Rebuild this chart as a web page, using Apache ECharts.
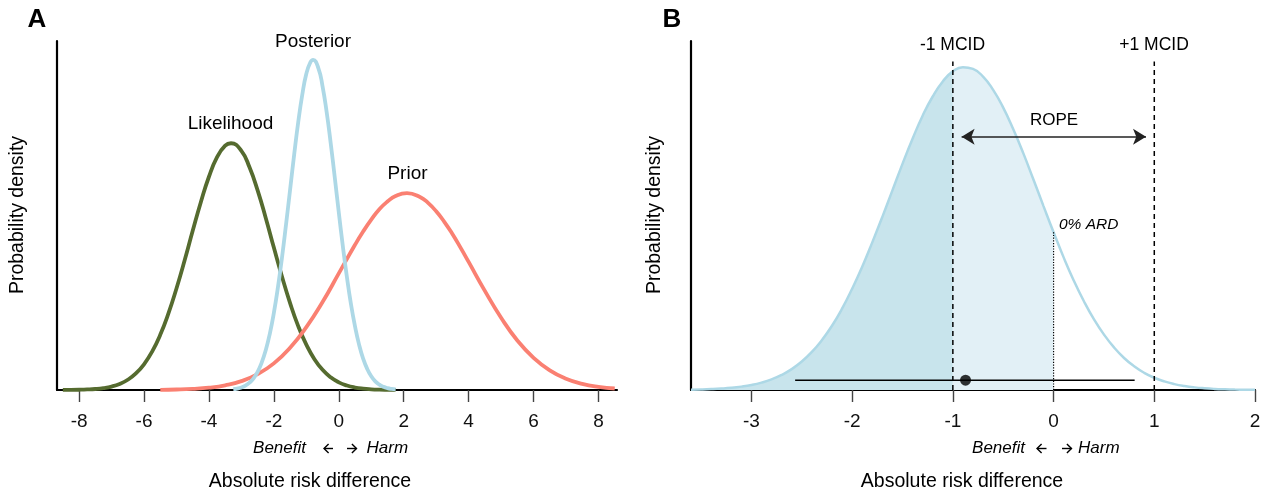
<!DOCTYPE html>
<html>
<head>
<meta charset="utf-8">
<script src="https://cdn.jsdelivr.net/npm/echarts@6/dist/echarts.min.js"></script>
<style>
  html, body { margin: 0; padding: 0; background: #fff; }
  #chart { width: 1271px; height: 499px; }
</style>
</head>
<body>
<div id="chart"></div>
<script>
// panel A, heights read as share of the y axis
const likelihoodX = [-8.5, -8.25, -8, -7.75, -7.5, -7.25, -7, -6.75, -6.5, -6.25, -6, -5.75, -5.5, -5.25, -5, -4.75, -4.5, -4.25, -4, -3.75, -3.5, -3.32, -3, -2.75, -2.5, -2.25, -2, -1.75, -1.5, -1.25, -1, -0.75, -0.5, -0.25, 0, 0.25, 0.5, 0.75, 1, 1.25, 1.5, 1.75];
const likelihoodY = [0.0002, 0.0003, 0.0007, 0.0015, 0.0029, 0.0055, 0.0099, 0.0174, 0.0293, 0.0473, 0.0736, 0.110, 0.158, 0.219, 0.291, 0.371, 0.456, 0.538, 0.611, 0.667, 0.700, 0.707, 0.685, 0.638, 0.572, 0.493, 0.408, 0.325, 0.249, 0.183, 0.130, 0.0883, 0.0578, 0.0363, 0.0220, 0.0128, 0.0071, 0.0038, 0.0020, 0.0010, 0.0005, 0.0002];
const posteriorX = [-3.25, -3.125, -3, -2.875, -2.75, -2.625, -2.5, -2.375, -2.25, -2.125, -2, -1.875, -1.75, -1.625, -1.5, -1.375, -1.25, -1.125, -1, -0.875, -0.79, -0.625, -0.5, -0.375, -0.25, -0.125, 0, 0.125, 0.25, 0.375, 0.5, 0.625, 0.75, 0.875, 1, 1.125, 1.25, 1.375, 1.5, 1.625, 1.75];
const posteriorY = [0.0023, 0.0042, 0.0074, 0.0127, 0.0209, 0.0335, 0.0520, 0.0783, 0.114, 0.161, 0.221, 0.294, 0.379, 0.474, 0.574, 0.674, 0.767, 0.846, 0.906, 0.939, 0.946, 0.921, 0.870, 0.797, 0.708, 0.610, 0.509, 0.412, 0.324, 0.246, 0.182, 0.130, 0.090, 0.0605, 0.0394, 0.0249, 0.0152, 0.0091, 0.0052, 0.0029, 0.0016];
const priorX = [-5.5, -5, -4.5, -4, -3.5, -3, -2.5, -2, -1.5, -1, -0.5, 0, 0.5, 0.75, 1, 1.25, 1.5, 1.75, 2.1, 2.5, 2.75, 3, 3.25, 3.5, 3.75, 4, 4.5, 5, 5.5, 6, 6.5, 7, 7.5, 8, 8.5];
const priorY = [0.0006, 0.0014, 0.0032, 0.0067, 0.0135, 0.0255, 0.0455, 0.0763, 0.121, 0.180, 0.252, 0.334, 0.416, 0.454, 0.488, 0.518, 0.540, 0.556, 0.564, 0.553, 0.536, 0.512, 0.482, 0.447, 0.408, 0.367, 0.284, 0.207, 0.142, 0.0923, 0.0564, 0.0324, 0.0176, 0.0090, 0.0043];
const ticksA = [-8, -6, -4, -2, 0, 2, 4, 6, 8];

// panel B
const postBX = [-3.6, -3.5, -3.4, -3.3, -3.2, -3.1, -3, -2.9, -2.8, -2.7, -2.6, -2.5, -2.4, -2.3, -2.2, -2.1, -2, -1.9, -1.8, -1.7, -1.6, -1.5, -1.4, -1.3, -1.2, -1.1, -1, -0.9, -0.8, -0.7, -0.6, -0.5, -0.4, -0.3, -0.2, -0.1, 0, 0.1, 0.2, 0.3, 0.4, 0.5, 0.6, 0.7, 0.8, 0.9, 1, 1.1, 1.2, 1.3, 1.4, 1.5, 1.6, 1.7, 1.8, 1.9, 2];
const postBY = [0.0010, 0.0016, 0.0026, 0.0041, 0.0063, 0.0097, 0.0144, 0.0212, 0.0305, 0.0431, 0.0598, 0.0815, 0.109, 0.143, 0.184, 0.233, 0.290, 0.353, 0.423, 0.496, 0.572, 0.648, 0.720, 0.786, 0.841, 0.884, 0.913, 0.925, 0.920, 0.898, 0.860, 0.809, 0.747, 0.678, 0.603, 0.527, 0.452, 0.380, 0.314, 0.255, 0.203, 0.159, 0.122, 0.0917, 0.0679, 0.0492, 0.0351, 0.0246, 0.0169, 0.0114, 0.0075, 0.0049, 0.0031, 0.0020, 0.0012, 0.0007, 0.0004];
const ticksB = [-3, -2, -1, 0, 1, 2];
const mcid = [-1, 1];
const mcidTop = 0.941;
const rope = [-0.913, 0.918];
const ropeY = 0.726;
const ardX = 0;
const ardY = 0.452;
const ci = [-2.566, 0.805];
const estimate = -0.874;
const ciY = 0.028;

const FONT = '"Liberation Sans", Arial, Helvetica, sans-serif';

function pairs(xs, ys) {
  return xs.map((x, i) => [x, ys[i]]);
}
const postB = pairs(postBX, postBY);
const fillDark = postB.filter(p => p[0] <= -1);
const fillLight = postB.filter(p => p[0] >= -1 && p[0] <= 0);

function xAxisFor(idx, min, max, ticks) {
  return {
    type: "value",
    gridIndex: idx,
    min: min,
    max: max,
    splitLine: { show: false },
    axisLine: { show: true, onZero: false, lineStyle: { color: "#000", width: 2.2 } },
    axisTick: { show: true, customValues: ticks, length: 12, lineStyle: { color: "#444", width: 1.4 } },
    axisLabel: { customValues: ticks, margin: 22, color: "#111", fontSize: 19, fontFamily: FONT }
  };
}
function yAxisFor(idx) {
  return {
    type: "value",
    gridIndex: idx,
    min: 0,
    max: 1,
    splitLine: { show: false },
    axisTick: { show: false },
    axisLabel: { show: false },
    axisLine: { show: true, onZero: false, lineStyle: { color: "#000", width: 2.2 } }
  };
}
function curve(name, data, color, width, idx) {
  return {
    name: name,
    type: "line",
    xAxisIndex: idx,
    yAxisIndex: idx,
    data: data,
    smooth: true,
    showSymbol: false,
    clip: false,
    silent: true,
    lineStyle: { color: color, width: width }
  };
}
function txt(x, y, s, size, opts) {
  opts = opts || {};
  return {
    type: "text",
    x: x,
    y: y,
    rotation: opts.rotation || 0,
    style: {
      text: s,
      fontSize: size,
      fontFamily: FONT,
      fontStyle: opts.italic ? "italic" : "normal",
      fontWeight: opts.bold ? "bold" : "normal",
      fill: "#000",
      align: opts.align || "center",
      verticalAlign: "middle"
    }
  };
}
// small arrow glyph next to Benefit / Harm (x0 = left end, x1 = right end)
function arrowGlyph(x0, x1, y, dir) {
  const tip = dir < 0 ? x0 : x1;
  const back = tip - dir * 4.6;
  const st = { stroke: "#000", lineWidth: 1.4, fill: null };
  return {
    type: "group",
    children: [
      { type: "polyline", shape: { points: [[x0, y], [x1, y]] }, style: st },
      { type: "polyline", shape: { points: [[back, y - 4.6], [tip, y], [back, y + 4.6]] }, style: st }
    ]
  };
}

const myChart = echarts.init(document.getElementById("chart"), null, { renderer: "canvas" });

myChart.setOption({
  animation: false,
  backgroundColor: "#fff",
  grid: [
    { left: 57, top: 41, width: 560, height: 349 },
    { left: 691, top: 41, width: 564, height: 349 }
  ],
  xAxis: [xAxisFor(0, -8.68, 8.57, ticksA), xAxisFor(1, -3.6, 2.0, ticksB)],
  yAxis: [yAxisFor(0), yAxisFor(1)],
  series: [
    curve("Likelihood", pairs(likelihoodX, likelihoodY), "#556B2F", 3.8, 0),
    curve("Prior", pairs(priorX, priorY), "#FA8072", 3.8, 0),
    curve("Posterior", pairs(posteriorX, posteriorY), "#ADD8E6", 3.8, 0),
    // panel B shading
    {
      type: "line", xAxisIndex: 1, yAxisIndex: 1, data: fillDark, smooth: true,
      showSymbol: false, silent: true, lineStyle: { width: 0 },
      areaStyle: { color: "#C8E4EC", opacity: 1 }
    },
    {
      type: "line", xAxisIndex: 1, yAxisIndex: 1, data: fillLight, smooth: true,
      showSymbol: false, silent: true, lineStyle: { width: 0 },
      areaStyle: { color: "#E2F0F6", opacity: 1 }
    },
    curve("Posterior B", postB, "#ADD8E6", 2.5, 1),
    // MCID dashed lines + ROPE arrow
    {
      type: "line", xAxisIndex: 1, yAxisIndex: 1, silent: true, showSymbol: false,
      data: [[mcid[0], 0], [mcid[0], mcidTop], null, [mcid[1], 0], [mcid[1], mcidTop]],
      connectNulls: false,
      lineStyle: { color: "#000", width: 1.5, type: [5, 4] },
      markLine: {
        silent: true,
        symbol: ["arrow", "arrow"],
        symbolSize: [12, 13],
        label: { show: false },
        lineStyle: { color: "#222", width: 1.6, type: "solid" },
        data: [[{ coord: [rope[0], ropeY] }, { coord: [rope[1], ropeY] }]]
      }
    },
    // 0% ARD dotted line
    {
      type: "line", xAxisIndex: 1, yAxisIndex: 1, silent: true, showSymbol: false,
      data: [[ardX, 0], [ardX, ardY]],
      lineStyle: { color: "#000", width: 1.2, type: [1.2, 1.5] }
    },
    // interval + point estimate
    {
      type: "line", xAxisIndex: 1, yAxisIndex: 1, silent: true, showSymbol: false,
      data: [[ci[0], ciY], [ci[1], ciY]],
      lineStyle: { color: "#000", width: 1.6 }
    },
    {
      type: "scatter", xAxisIndex: 1, yAxisIndex: 1, silent: true,
      data: [[estimate, ciY]], symbolSize: 11, itemStyle: { color: "#000" }, z: 5
    }
  ],
  graphic: [
    txt(37, 20, "A", 26, { bold: true }),
    txt(672, 20, "B", 26, { bold: true }),
    txt(313, 41.5, "Posterior", 19),
    txt(230.5, 124, "Likelihood", 19),
    txt(407.5, 173.5, "Prior", 19),
    txt(18, 215, "Probability density", 19.5, { rotation: Math.PI / 2 }),
    txt(655, 215, "Probability density", 19.5, { rotation: Math.PI / 2 }),
    txt(306, 448, "Benefit", 17, { italic: true, align: "right" }),
    arrowGlyph(324, 333, 448.5, -1),
    arrowGlyph(347, 356.5, 448.5, 1),
    txt(366.5, 448, "Harm", 17, { italic: true, align: "left" }),
    txt(1025, 448, "Benefit", 17, { italic: true, align: "right" }),
    arrowGlyph(1037, 1046.5, 448.5, -1),
    arrowGlyph(1062, 1071.5, 448.5, 1),
    txt(1078, 448, "Harm", 17, { italic: true, align: "left" }),
    txt(310, 482, "Absolute risk difference", 19.5),
    txt(962, 482, "Absolute risk difference", 19.5),
    txt(952.5, 45.5, "-1 MCID", 17.5),
    txt(1154, 45.5, "+1 MCID", 17.5),
    txt(1054, 120, "ROPE", 17),
    txt(1059, 225, "0% ARD", 15.5, { italic: true, align: "left" })
  ]
});

window.addEventListener("resize", () => {
  myChart.resize();
});
</script>
</body>
</html>
